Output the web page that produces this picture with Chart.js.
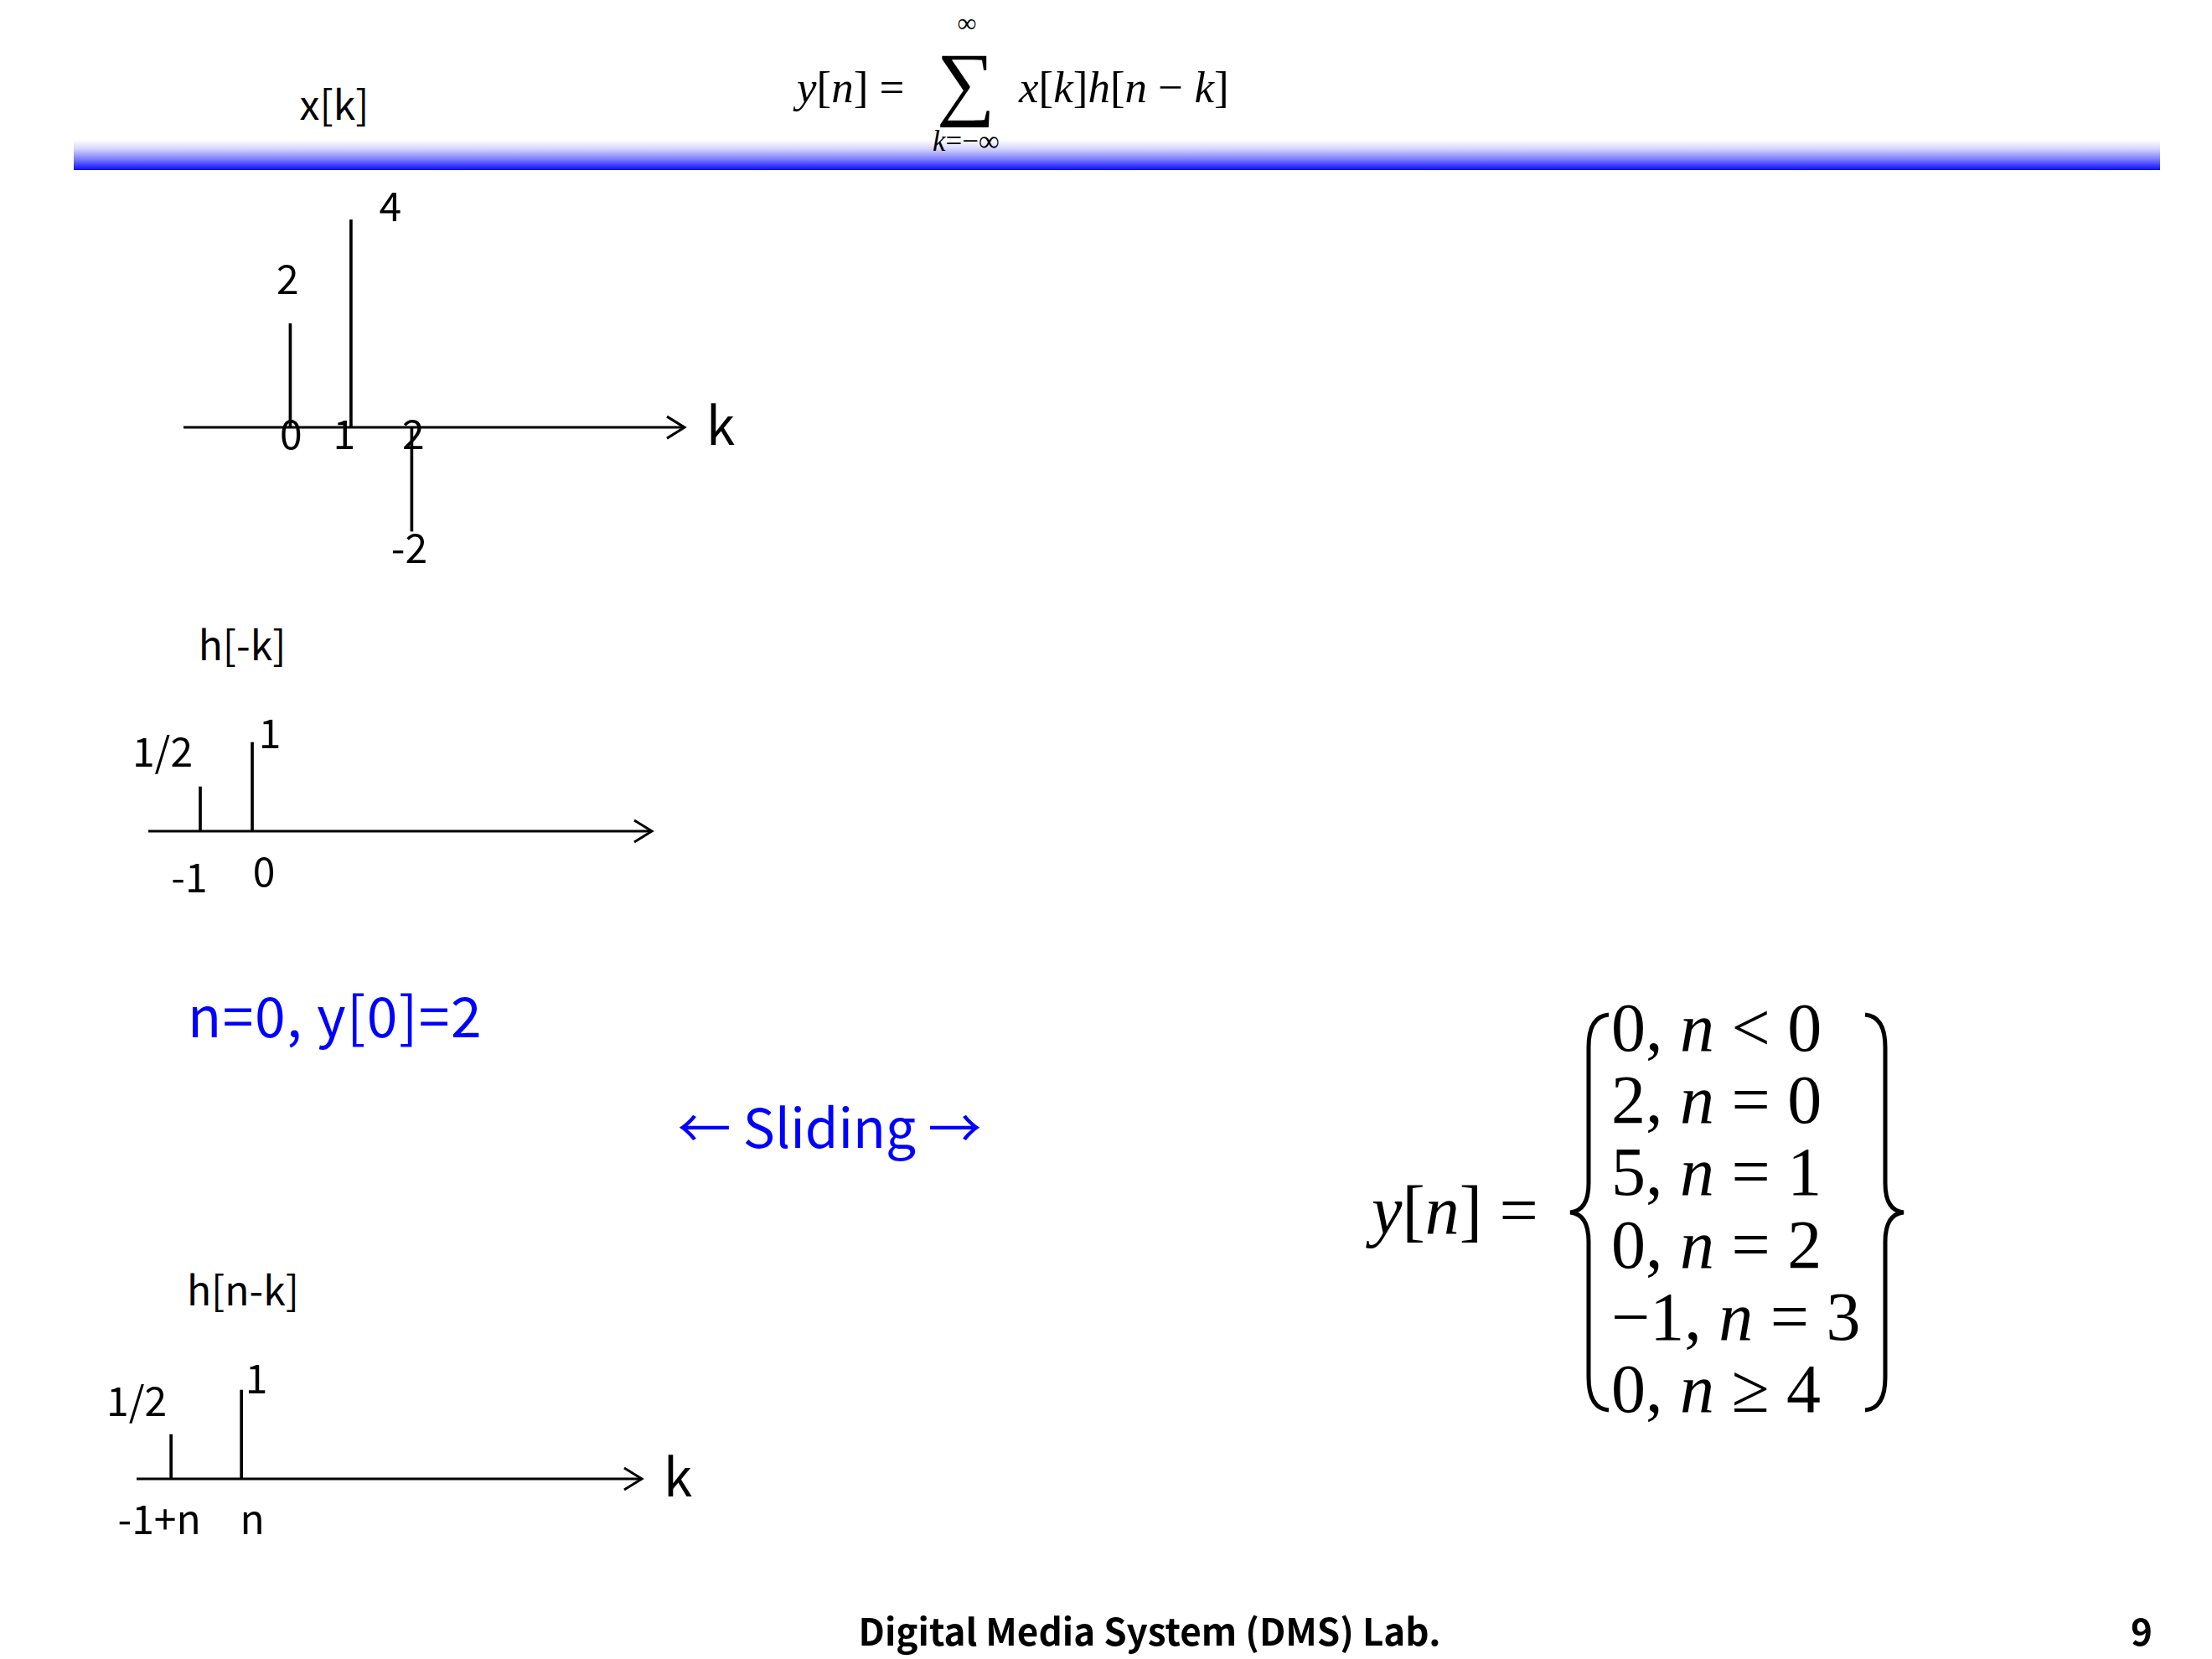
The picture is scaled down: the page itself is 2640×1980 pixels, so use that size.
<!DOCTYPE html>
<html>
<head>
<meta charset="utf-8">
<script src="https://cdn.jsdelivr.net/npm/chart.js@4/dist/chart.umd.min.js"></script>
<style>
  html, body { margin: 0; padding: 0; background: #fff; }
  body { width: 2640px; height: 1980px; position: relative; overflow: hidden;
         font-family: "Noto Sans CJK KR", "Noto Sans", sans-serif; color: #000; }
  .t { position: absolute; white-space: nowrap; line-height: 1; transform: translate(-50%, -50%); }
  .tl { position: absolute; white-space: nowrap; line-height: 1; transform: translate(0, -50%); }
  .math { font-family: "Liberation Serif", "DejaVu Serif", serif; }
  .math i { font-style: italic; }
  canvas { position: absolute; }
  #bar { position: absolute; left: 88px; top: 167px; width: 2490px; height: 36px;
         background: linear-gradient(to bottom, #ffffff 0%, #d4d4ff 30%, #7a7aff 65%, #3030ff 88%, #1010e0 100%); }
</style>
</head>
<body>

<div id="bar"></div>

<!-- header -->
<div class="t" style="left:399px; top:122px; font-size:48px;">x[k]</div>
<div class="tl math" style="left:951px; top:104px; font-size:53px;"><i>y</i>[<i>n</i>] =</div>
<div class="t math" style="left:1153px; top:98px; font-size:98px; line-height:0.5;">&#8721;</div>
<div class="t math" style="left:1154px; top:27px; font-size:32px; line-height:0.5;">&#8734;</div>
<div class="t math" style="left:1153px; top:169px; font-size:35px; line-height:0.7;"><i>k</i>=&#8722;&#8734;</div>
<div class="tl math" style="left:1216px; top:104px; font-size:53px;"><i>x</i>[<i>k</i>]<i>h</i>[<i>n</i> &#8722; <i>k</i>]</div>

<!-- stem plots -->
<canvas id="xkChart" width="720" height="480" style="left:200px; top:210px;"></canvas>
<div class="t" style="left:289px; top:767px; font-size:48px;">h[-k]</div>
<canvas id="hRevChart" width="720" height="260" style="left:140px; top:820px;"></canvas>
<div class="t" style="left:290px; top:1537px; font-size:48px;">h[n-k]</div>
<canvas id="hShiftChart" width="760" height="260" style="left:100px; top:1600px;"></canvas>

<!-- blue notes -->
<div class="tl" style="left:224px; top:1209px; font-size:66px; letter-spacing:1.5px; color:#0000ff;">n=0, y[0]=2</div>
<div class="t" style="left:990px; top:1342px; font-size:64px; color:#0000ff;">&#8592; Sliding &#8594;</div>

<!-- result -->
<div class="tl math" style="left:1637px; top:1445px; font-size:82px;"><i>y</i>[<i>n</i>] =</div>
<div id="rows"></div>
<svg style="position:absolute; left:0; top:0;" width="2640" height="1980">
  <path d="M1920,1211 Q1896,1213 1896,1250 L1896,1412 Q1896,1445 1874,1447 Q1896,1449 1896,1482 L1896,1644 Q1896,1681 1920,1683"
        fill="none" stroke="#000" stroke-width="5"/>
  <path d="M2226,1211 Q2250,1213 2250,1250 L2250,1412 Q2250,1445 2272,1447 Q2250,1449 2250,1482 L2250,1644 Q2250,1681 2226,1683"
        fill="none" stroke="#000" stroke-width="5"/>
</svg>

<!-- footer -->
<div class="t" style="left:1372px; top:1945px; font-size:44px; font-weight:bold;">Digital Media System (DMS) Lab.</div>
<div class="t" style="left:2556px; top:1945px; font-size:44px; font-weight:bold;">9</div>

<script>
// x[k]
const xkIndex = [0, 1, 2];
const xkValues = [2, 4, -2];
const xkTickLabels = ['0', '1', '2'];
const xkValueLabels = ['2', '4', '-2'];

// h[-k]
const hRevIndex = [-1, 0];
const hRevValues = [0.5, 1];
const hRevTickLabels = ['-1', '0'];
const hRevValueLabels = ['1/2', '1'];

// h[n-k], index relative to n
const hShiftIndex = [-1, 0];
const hShiftValues = [0.5, 1];
const hShiftTickLabels = ['-1+n', 'n'];
const hShiftValueLabels = ['1/2', '1'];

// y[n] cases
const yCases = ['0, <i>n</i> &lt; 0', '2, <i>n</i> = 0', '5, <i>n</i> = 1',
                '0, <i>n</i> = 2', '&#8722;1, <i>n</i> = 3', '0, <i>n</i> &#8805; 4'];

const rowsDiv = document.getElementById('rows');
yCases.forEach(function(txt, i) {
    const d = document.createElement('div');
    d.className = 'tl math';
    d.style.left = '1923px';
    d.style.top = (1227 + i * 86.2) + 'px';
    d.style.fontSize = '82px';
    d.innerHTML = txt;
    rowsDiv.appendChild(d);
});

// axis line + arrow + labels, all placed through the chart scales
const stemDecor = {
    id: 'stemDecor',
    afterDatasetsDraw(chart, args, opts) {
        const ctx = chart.ctx;
        const area = chart.chartArea;
        const xs = chart.scales.x;
        const ys = chart.scales.y;
        const y0 = ys.getPixelForValue(0);

        ctx.save();
        ctx.strokeStyle = '#000';
        ctx.lineWidth = 3;
        ctx.beginPath();
        ctx.moveTo(area.left, y0);
        ctx.lineTo(area.right, y0);
        ctx.stroke();

        ctx.beginPath();
        ctx.moveTo(area.right - 21, y0 - 13);
        ctx.lineTo(area.right, y0);
        ctx.lineTo(area.right - 21, y0 + 13);
        ctx.stroke();

        ctx.fillStyle = '#000';
        ctx.textAlign = 'center';
        ctx.textBaseline = 'middle';
        ctx.font = '48px "Noto Sans CJK KR", sans-serif';

        opts.index.forEach(function(k, i) {
            const px = xs.getPixelForValue(k);
            const py = ys.getPixelForValue(opts.values[i]);
            const vo = opts.valueOffset[i];
            const to = opts.tickOffset[i];
            ctx.fillText(opts.valueLabels[i], px + vo[0], py + vo[1]);
            ctx.fillText(opts.tickLabels[i], px + to[0], y0 + to[1]);
        });

        if (opts.axisLabel) {
            ctx.font = '62px "Noto Sans CJK KR", sans-serif';
            ctx.fillText(opts.axisLabel, area.right + 43, y0 - 3);
        }
        ctx.restore();
    }
};

function makeStemChart(id, index, values, tickLabels, valueLabels, geo) {
    const ctx = document.getElementById(id).getContext('2d');
    return new Chart(ctx, {
        type: 'bar',
        data: {
            datasets: [{
                data: index.map(function(k, i) { return { x: k, y: values[i] }; }),
                backgroundColor: '#000',
                borderWidth: 0,
                barThickness: 3
            }]
        },
        options: {
            responsive: false,
            animation: false,
            devicePixelRatio: 1,
            layout: { padding: geo.padding },
            scales: {
                x: { type: 'linear', min: geo.xMin, max: geo.xMax, offset: false,
                     grid: { offset: false }, display: false },
                y: { min: geo.yMin, max: geo.yMax, display: false }
            },
            plugins: {
                legend: { display: false },
                tooltip: { enabled: false },
                stemDecor: {
                    index: index,
                    values: values,
                    tickLabels: tickLabels,
                    valueLabels: valueLabels,
                    valueOffset: geo.valueOffset,
                    tickOffset: geo.tickOffset,
                    axisLabel: geo.axisLabel
                }
            }
        },
        plugins: [stemDecor]
    });
}

makeStemChart('xkChart', xkIndex, xkValues, xkTickLabels, xkValueLabels, {
    padding: { left: 19, right: 103, top: 20, bottom: 20 },
    xMin: -1.758, xMax: 6.492, yMin: -2.58, yMax: 4.52,
    valueOffset: [[-3, -53], [47, -16], [-3, 20]],
    tickOffset: [[1, 8], [-8, 8], [2, 8]],
    axisLabel: 'k'
});

makeStemChart('hRevChart', hRevIndex, hRevValues, hRevTickLabels, hRevValueLabels, {
    padding: { left: 37, right: 82, top: 30, bottom: 10 },
    xMin: -2.0, xMax: 7.69, yMin: -0.736, yMax: 1.34,
    valueOffset: [[-45, -42], [21, -11]],
    tickOffset: [[-13, 55], [14, 48]],
    axisLabel: ''
});

makeStemChart('hShiftChart', hShiftIndex, hShiftValues, hShiftTickLabels, hShiftValueLabels, {
    padding: { left: 63, right: 94, top: 30, bottom: 10 },
    xMin: -1.49, xMax: 5.69, yMin: -0.802, yMax: 1.274,
    valueOffset: [[-41, -40], [18, -14]],
    tickOffset: [[-14, 48], [13, 48]],
    axisLabel: 'k'
});
</script>
</body>
</html>
